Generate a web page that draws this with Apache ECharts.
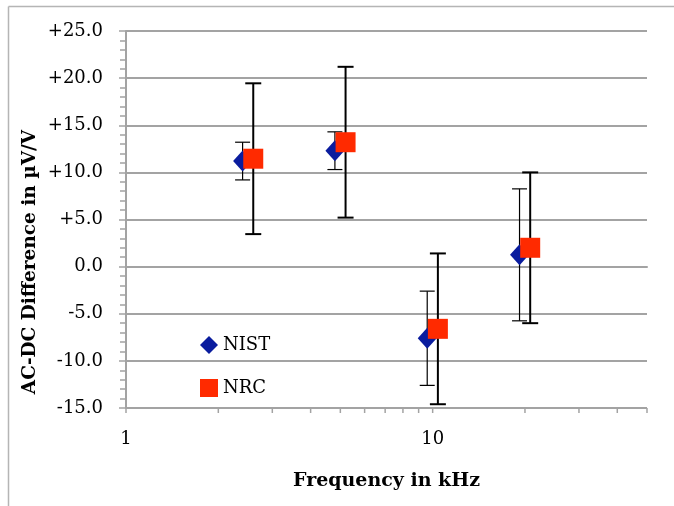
<!DOCTYPE html>
<html><head><meta charset="utf-8">
<script src="https://cdn.jsdelivr.net/npm/echarts@6/dist/echarts.min.js"></script>
<style>html,body{margin:0;padding:0;background:#fff}#c{width:674px;height:506px}</style>
</head><body><div id="c"></div>
<script>
// Frequencies (kHz), slightly offset per lab around 2.5, 5, 10, 20 kHz
const nistFreq = [2.4, 4.8, 9.6, 19.2];
const nistVal  = [11.2, 12.3, -7.6, 1.25];
const nistErr  = [2.0, 2.0, 5.0, 7.0];
const nrcFreq  = [2.6, 5.2, 10.4, 20.8];
const nrcVal   = [11.45, 13.2, -6.6, 2.0];
const nrcErr   = [8.0, 8.0, 8.0, 8.0];
const xTicks   = [1,2,3,4,5,6,7,8,9,10,20,30,40,50];
const xLabels  = [1,10];
const yMin = -15, yMax = 25, yStep = 5;

const serif = 'DejaVu Serif';
const grey = '#a3a3a3';

function errBar(halfW, lw){
  return function(params, api){
    const x = api.value(0), lo = api.value(1), hi = api.value(2);
    const pt = api.coord([x, hi]), pb = api.coord([x, lo]);
    const st = {stroke:'#000', lineWidth: lw};
    return {type:'group', children:[
      {type:'line', shape:{x1:pt[0],y1:pt[1],x2:pb[0],y2:pb[1]}, style:st},
      {type:'line', shape:{x1:pt[0]-halfW,y1:pt[1],x2:pt[0]+halfW,y2:pt[1]}, style:st},
      {type:'line', shape:{x1:pb[0]-halfW,y1:pb[1],x2:pb[0]+halfW,y2:pb[1]}, style:st}
    ]};
  };
}
function tickMark(params, api){
  const p = api.coord([api.value(0), yMin]);
  return {type:'line', shape:{x1:p[0], y1:p[1], x2:p[0], y2:p[1]+5},
          style:{stroke:grey, lineWidth:1.5}};
}

const chart = echarts.init(document.getElementById('c'), null, {renderer:'canvas'});
chart.setOption({
  animation:false,
  backgroundColor:'#fff',
  grid:{left:126, right:27, top:31, bottom:98, containLabel:false},
  legend:{
    data:['NIST','NRC'], orient:'vertical', left:195, top:331,
    itemWidth:18, itemHeight:18, itemGap:25, itemTextGap:2,
    textStyle:{fontFamily:serif, fontSize:18, color:'#000'}
  },
  xAxis:{
    type:'log', logBase:10, min:1, max:50,
    axisLine:{show:true, lineStyle:{color:grey, width:2}},
    axisTick:{show:false},
    axisLabel:{customValues:xLabels, margin:22, fontFamily:serif, fontSize:18, color:'#000', formatter:v=>String(v)},
    splitLine:{show:false}, minorTick:{show:false},
    name:'Frequency in kHz', nameLocation:'middle', nameGap:64,
    nameTextStyle:{fontFamily:serif, fontSize:19, fontWeight:'bold', color:'#000'}
  },
  yAxis:{
    type:'value', min:yMin, max:yMax, interval:yStep,
    axisLine:{show:true, lineStyle:{color:grey, width:2}},
    axisTick:{show:true, inside:false, length:7, lineStyle:{color:grey, width:1.5}},
    minorTick:{show:true, splitNumber:5, length:6, lineStyle:{color:grey, width:1.5}},
    axisLabel:{margin:23, fontFamily:serif, fontSize:18, color:'#000',
      formatter:v=>(v>0?'+':'')+v.toFixed(1)},
    splitLine:{show:true, lineStyle:{color:grey, width:2}}
  },
  graphic:[
    {type:'line', shape:{x1:8.5,y1:6.5,x2:674,y2:6.5}, style:{stroke:'#b5b5b5', lineWidth:1.5}},
    {type:'line', shape:{x1:8.5,y1:6.5,x2:8.5,y2:506}, style:{stroke:'#b5b5b5', lineWidth:1.5}},
    {type:'text', x:30, y:262, rotation:Math.PI/2, style:{text:'AC-DC Difference in µV/V', fontFamily:serif,
      fontSize:18.5, fontWeight:'bold', fill:'#000', align:'center', verticalAlign:'middle'}}
  ],
  series:[
    {type:'custom', renderItem:tickMark, clip:false, silent:true, z:1,
     data:xTicks.map(v=>[v]), encode:{x:0}},
    {type:'custom', renderItem:errBar(7.5,1.2), z:2,
     data:nistFreq.map((f,i)=>[f, nistVal[i]-nistErr[i], nistVal[i]+nistErr[i]]),
     encode:{x:0, y:[1,2]}},
    {type:'custom', renderItem:errBar(8,2), z:2,
     data:nrcFreq.map((f,i)=>[f, nrcVal[i]-nrcErr[i], nrcVal[i]+nrcErr[i]]),
     encode:{x:0, y:[1,2]}},
    {name:'NIST', type:'scatter', symbol:'diamond', symbolSize:[19,21], z:3,
     itemStyle:{color:'#0a1c9e', opacity:1},
     data:nistFreq.map((f,i)=>[f, nistVal[i]])},
    {name:'NRC', type:'scatter', symbol:'rect', symbolSize:20, z:4,
     itemStyle:{color:'#ff2a00', opacity:1},
     data:nrcFreq.map((f,i)=>[f, nrcVal[i]])}
  ]
});
</script></body></html>
